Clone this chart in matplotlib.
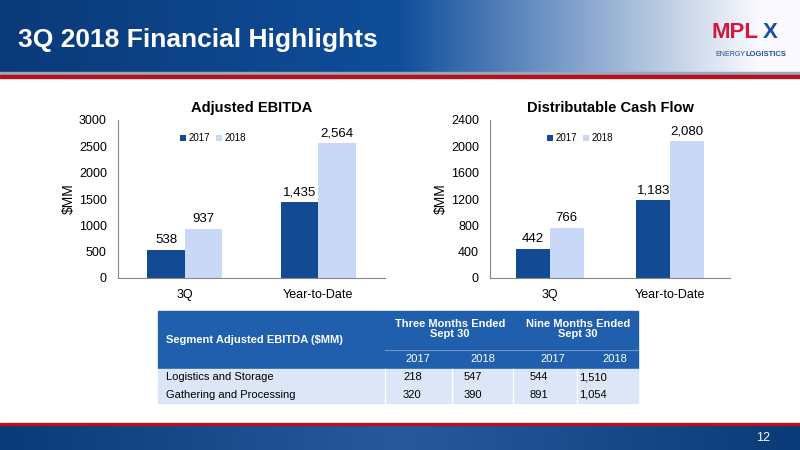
import matplotlib
matplotlib.use("Agg")
import matplotlib.pyplot as plt
import numpy as np
from matplotlib.patches import Rectangle

categories = ["3Q", "Year-to-Date"]
ebitda_2017 = [538, 1435]
ebitda_2018 = [937, 2564]
dcf_2017 = [442, 1183]
dcf_2018 = [766, 2080]
table_rows = ["Logistics and Storage", "Gathering and Processing"]
table_vals = [["218", "547", "544", "1,510"], ["320", "390", "891", "1,054"]]

W, H = 800, 450
fig = plt.figure(figsize=(8, 4.5), dpi=100)
plt.rcParams['font.family'] = ['Liberation Sans', 'DejaVu Sans']

def ax_px(x0, y0, x1, y1, **kw):
    return fig.add_axes([x0 / W, 1 - y1 / H, (x1 - x0) / W, (y1 - y0) / H], **kw)

bg = ax_px(0, 0, 800, 450); bg.set_xlim(0, 800); bg.set_ylim(450, 0); bg.axis("off")
grad = np.linspace(0, 1, 256)
cols = np.zeros((1, 256, 3))
c0 = np.array([0x0b, 0x3a, 0x78]) / 255; c1 = np.array([0x0f, 0x4e, 0x9a]) / 255
c2 = np.array([0.98, 0.98, 1.0])
for i, g in enumerate(grad):
    if g < 0.5:
        cols[0, i] = c0 + (c1 - c0) * g / 0.5
    else:
        t = min((g - 0.5) / 0.45, 1)
        cols[0, i] = c1 + (c2 - c1) * t
bg.imshow(cols, extent=[0, 800, 72, 0], aspect="auto")
bg.add_patch(Rectangle((0, 72), 800, 3, color="#9aa6b8"))
bg.add_patch(Rectangle((0, 75), 800, 3, color="#b3121e"))
fcols = np.zeros((1, 256, 3))
f0 = np.array([0x0b, 0x3a, 0x78]) / 255; f1 = np.array([0x3a, 0x6f, 0xb5]) / 255
for i, g in enumerate(grad):
    fcols[0, i] = f0 + (f1 - f0) * (1 - abs(g - 0.5) * 2) * 0.6
bg.imshow(fcols, extent=[0, 800, 450, 425], aspect="auto")
bg.add_patch(Rectangle((0, 423), 800, 2, color="#b3121e"))
bg.text(18, 40, "3Q 2018 Financial Highlights", color="white", fontsize=19, fontweight="bold", va="center")
bg.text(770, 438, "12", color="white", fontsize=9, ha="right", va="center")
bg.text(735, 33, "MPL", color="#d6163c", fontsize=16, fontweight="bold", ha="center", va="center")
bg.text(770, 33, "X", color="#1f4e9a", fontsize=16, fontweight="bold", ha="center", va="center")
bg.text(745, 55, "ENERGY", color="#1f4e9a", fontsize=5, ha="right", va="center")
bg.text(745, 55, "LOGISTICS", color="#1f4e9a", fontsize=5.5, fontweight="bold", ha="left", va="center")
bg.set_zorder(0)

def chart(x0, x1, d17, d18, ymax, step, title):
    ax = ax_px(x0, 120, x1, 278)
    ax.patch.set_alpha(0)
    x = np.arange(len(categories))
    w = 0.28
    ax.bar(x - w / 2, d17, w, color="#134a94", label="2017")
    ax.bar(x + w / 2, d18, w, color="#c9d8f7", label="2018")
    for xi, a, b in zip(x, d17, d18):
        ax.text(xi - w / 2, a + ymax * 0.025, f"{a:,}", ha="center", va="bottom", fontsize=9.5)
        ax.text(xi + w / 2, b + ymax * 0.025, f"{b:,}", ha="center", va="bottom", fontsize=9.5)
    ax.set_xlim(-0.5, 1.5); ax.set_ylim(0, ymax)
    ax.set_yticks(np.arange(0, ymax + 1, step))
    ax.set_xticks(x); ax.set_xticklabels(categories)
    ax.tick_params(labelsize=9, length=0, pad=8)
    for s in ["top", "right"]:
        ax.spines[s].set_visible(False)
    ax.spines["left"].set_color("#888888"); ax.spines["bottom"].set_color("#888888")
    ax.set_ylabel("$MM", fontsize=10, labelpad=2)
    ax.set_title(title, fontsize=10.5, fontweight="bold", pad=6)
    ax.legend(loc="upper left", bbox_to_anchor=(0.2, 0.97), ncol=2, frameon=False, fontsize=7,
              handlelength=0.6, handletextpad=0.3, columnspacing=0.6)
    return ax

chart(118, 385, ebitda_2017, ebitda_2018, 3000, 500, "Adjusted EBITDA")
chart(490, 730, dcf_2017, dcf_2018, 2400, 400, "Distributable Cash Flow")

blue = "#1f5fae"; light = "#dce6f6"
bg.add_patch(Rectangle((158, 311), 480, 57, color=blue, zorder=2))
bg.plot([385, 638], [350, 350], color="#6f95cc", lw=0.8, zorder=3)
bg.text(166, 340, "Segment Adjusted EBITDA ($MM)", color="white", fontsize=8, fontweight="bold", va="center", zorder=3)
bg.text(450, 329, "Three Months Ended\nSept 30", color="white", fontsize=8, fontweight="bold", ha="center", va="center", linespacing=1.05, zorder=3)
bg.text(578, 329, "Nine Months Ended\nSept 30", color="white", fontsize=8, fontweight="bold", ha="center", va="center", linespacing=1.05, zorder=3)
for xc, yr in zip([418, 483, 553, 615], ["2017", "2018", "2017", "2018"]):
    bg.text(xc, 359, yr, color="white", fontsize=8, ha="center", va="center", zorder=3)
for r, (name, vals) in enumerate(zip(table_rows, table_vals)):
    y0 = 368 + r * 17.5
    bg.add_patch(Rectangle((158, y0 + 0.7), 480, 16.5, color=light, zorder=2))
    bg.text(166, y0 + 9, name, fontsize=8, va="center", zorder=3)
    for xs, v in zip([403, 464, 530, 579], vals):
        bg.text(xs, y0 + 9, v, fontsize=8, va="center", zorder=3)
    for xv in [385, 452, 513, 577]:
        bg.plot([xv, xv], [y0 + 0.7, y0 + 17.2], color="white", lw=1, zorder=3)

fig.savefig("out.png", dpi=100)
